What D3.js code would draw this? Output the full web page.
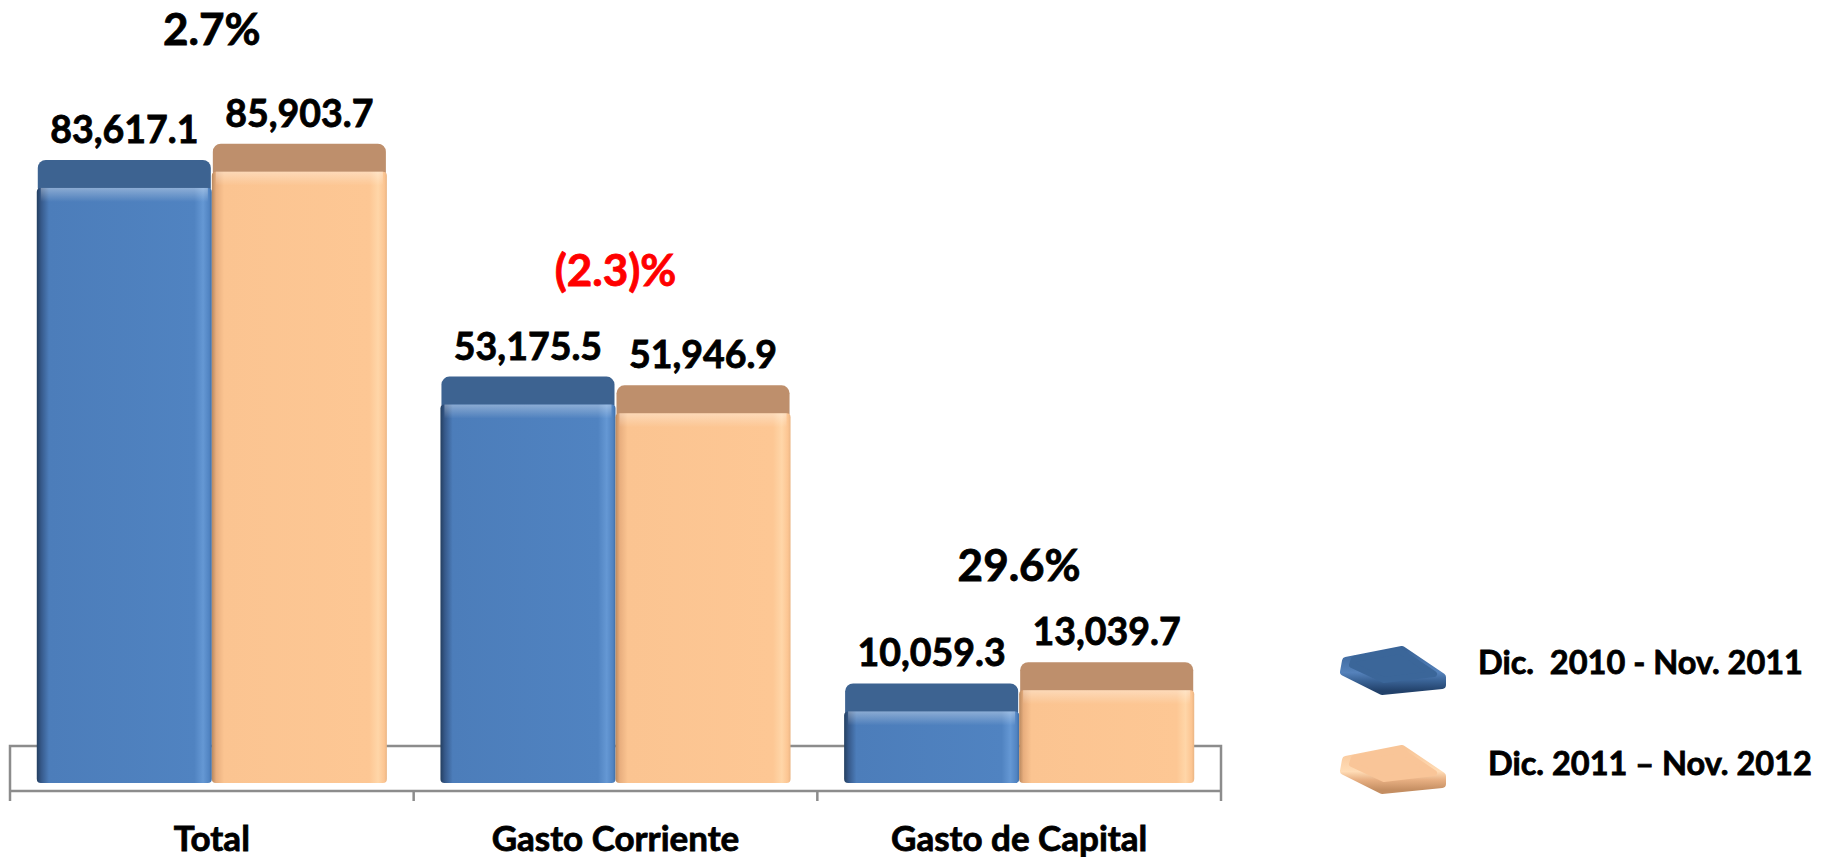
<!DOCTYPE html>
<html>
<head>
<meta charset="utf-8">
<script src="https://cdn.jsdelivr.net/npm/d3@7"></script>
<style>
  html, body { margin: 0; padding: 0; background: #fff; }
  svg { display: block; font-family: Lato, "Open Sans", sans-serif; font-weight: 700; }
  svg text { stroke-width: 0.8px; }
</style>
</head>
<body>
<div id="chart"></div>
<script>
// data
const categories = ["Total", "Gasto Corriente", "Gasto de Capital"];
const series = ["Dic.  2010 - Nov. 2011", "Dic. 2011 \u2013 Nov. 2012"];
const values2011 = [83617.1, 53175.5, 10059.3];
const values2012 = [85903.7, 51946.9, 13039.7];

const W = 1825, H = 857;
const depth = 28;       // height of the bar's top face
const front = {fill: ["url(#blueFront)", "url(#peachFront)"], top: ["#3d6391", "#be8f6c"]};

const rows = categories.map((c, i) => ({cat: c, vals: [values2011[i], values2012[i]]}));

const svg = d3.select("#chart").append("svg")
  .attr("width", W).attr("height", H)
  .attr("viewBox", `0 0 ${W} ${H}`);

const defs = svg.append("defs");
function hgrad(id, stops) {
  const g = defs.append("linearGradient").attr("id", id)
    .attr("x1", "0").attr("x2", "1").attr("y1", "0").attr("y2", "0");
  stops.forEach(s => g.append("stop").attr("offset", s[0]).attr("stop-color", s[1]));
}
hgrad("blueFront", [["0", "#243f60"], ["0.025", "#36598a"], ["0.07", "#4c7dba"], ["0.9", "#5083c1"], ["0.95", "#6598d4"], ["0.985", "#5184c2"], ["1", "#3f6ea6"]]);
hgrad("peachFront", [["0", "#b8885f"], ["0.025", "#e8ae7e"], ["0.07", "#fbc491"], ["0.9", "#fdc794"], ["0.95", "#ffd6a8"], ["0.985", "#fcc592"], ["1", "#eab584"]]);
const bev = defs.append("linearGradient").attr("id", "bevel")
  .attr("x1", "0").attr("x2", "0").attr("y1", "0").attr("y2", "1");
bev.append("stop").attr("offset", "0").attr("stop-color", "#fff").attr("stop-opacity", 0.35);
bev.append("stop").attr("offset", "1").attr("stop-color", "#fff").attr("stop-opacity", 0);

// cushion shading for the legend
function vgrad(id, stops) {
  const g = defs.append("linearGradient").attr("id", id)
    .attr("x1", "0").attr("x2", "0").attr("y1", "0").attr("y2", "1");
  stops.forEach(s => g.append("stop").attr("offset", s[0]).attr("stop-color", s[1]));
}
vgrad("blueSide", [["0", "#3a6498"], ["0.55", "#5582bb"], ["0.75", "#3a6396"], ["1", "#22416a"]]);
vgrad("peachSide", [["0", "#f8c597"], ["0.55", "#ffdcb6"], ["0.75", "#e8b083"], ["1", "#c48e62"]]);

// scales
const x0 = d3.scaleBand().domain(categories).range([10, 1221]).paddingInner(0).paddingOuter(0);
const x1 = d3.scaleBand().domain(series).range([0, x0.bandwidth()]).paddingInner(0).paddingOuter(0.153);
const y = d3.scaleLinear().domain([0, 90000]).range([755, 114.5]);

const y0 = y(0);

// floor (drawn behind the bars)
const floor = svg.append("g").attr("stroke", "#8c8c8c").attr("stroke-width", 2.5).attr("fill", "none");
floor.append("path")
  .attr("d", `M${x0.range()[0]},${y0 + 36}V${y0 - 9}H${x0.range()[1]}V${y0 + 36}`);

// x axis along the front edge of the floor
const xAxis = svg.append("g")
  .attr("transform", `translate(0,${y0 + 36})`)
  .call(d3.axisBottom(x0).tickSize(0).tickFormat(""));
xAxis.select(".domain").attr("stroke", "#8c8c8c").attr("stroke-width", 2.5)
  .attr("d", `M${x0.range()[0]},0H${x0.range()[1]}`);
svg.append("g").selectAll("line")
  .data(categories.map(c => x0(c)).concat([x0.range()[1]]))
  .join("line")
  .attr("x1", d => d).attr("x2", d => d)
  .attr("y1", y0 + 36).attr("y2", y0 + 46)
  .attr("stroke", "#8c8c8c").attr("stroke-width", 2.5);

// bars
const groups = svg.append("g").selectAll("g")
  .data(rows).join("g")
  .attr("transform", d => `translate(${x0(d.cat)},0)`);

const bars = groups.selectAll("g.bar")
  .data(d => d.vals.map((v, j) => ({v, j, s: series[j]})))
  .join("g").attr("class", "bar");

bars.append("rect")
  .attr("x", d => x1(d.s) + 1)
  .attr("y", d => y(d.v))
  .attr("width", x1.bandwidth() - 2)
  .attr("height", depth + 8)
  .attr("rx", 8)
  .attr("fill", d => front.top[d.j]);

bars.append("rect")
  .attr("x", d => x1(d.s))
  .attr("y", d => y(d.v) + depth)
  .attr("width", x1.bandwidth())
  .attr("height", d => y0 - y(d.v))
  .attr("rx", 4)
  .attr("fill", d => front.fill[d.j]);

bars.append("rect")
  .attr("x", d => x1(d.s) + 4)
  .attr("y", d => y(d.v) + depth)
  .attr("width", x1.bandwidth() - 8)
  .attr("height", 14)
  .attr("fill", "url(#bevel)");

// value labels
bars.append("text")
  .attr("x", d => x1(d.s) + x1.bandwidth() / 2)
  .attr("y", d => y(d.v) - 17)
  .attr("text-anchor", "middle")
  .attr("font-size", 37.5)
  .attr("fill", "#000").attr("stroke", "#000")
  .text(d => d3.format(",.1f")(d.v));

// growth labels (taller bars sit a little further from their label)
const pct = v => {
  const p = (v[1] / v[0] - 1) * 100;
  return p < 0 ? `(${d3.format(".1f")(-p)})%` : `${d3.format(".1f")(p)}%`;
};
groups.append("text")
  .attr("x", x0.bandwidth() / 2)
  .attr("y", d => { const t = y(d3.max(d.vals)); return t - (104 - 0.035 * t); })
  .attr("text-anchor", "middle")
  .attr("font-size", 44)
  .attr("fill", d => d.vals[1] < d.vals[0] ? "#ff0000" : "#000")
  .attr("stroke", d => d.vals[1] < d.vals[0] ? "#ff0000" : "#000")
  .text(d => pct(d.vals));

// category labels
groups.append("text")
  .attr("x", x0.bandwidth() / 2)
  .attr("y", 851)
  .attr("text-anchor", "middle")
  .attr("font-size", 35)
  .attr("fill", "#000").attr("stroke", "#000")
  .text(d => d.cat);

// legend
const legend = svg.append("g");
const cushions = [
  {top: "#3b6699", side: "url(#blueSide)", y: 645},
  {top: "#f9c598", side: "url(#peachSide)", y: 744}
];
const lg = legend.selectAll("g").data(series).join("g")
  .attr("transform", (d, i) => `translate(1338,${cushions[i].y})`);
// whole cushion body, rounded
lg.append("path")
  .attr("d", "M8,16 L64,5 L104,32 L104,40 L44,46 L6,27 Z")
  .attr("fill", (d, i) => cushions[i].side)
  .attr("stroke", (d, i) => cushions[i].side).attr("stroke-width", 8).attr("stroke-linejoin", "round");
// flat top face
lg.append("path")
  .attr("d", "M16,14 L62,6 L96,29 L46,35 L14,20 Z")
  .attr("fill", (d, i) => cushions[i].top)
  .attr("stroke", (d, i) => cushions[i].top).attr("stroke-width", 6).attr("stroke-linejoin", "round");

legend.selectAll("text").data(series).join("text")
  .attr("x", (d, i) => i === 0 ? 1478 : 1488)
  .attr("y", (d, i) => i === 0 ? 674 : 775)
  .attr("font-size", 32.5)
  .attr("fill", "#000").attr("stroke", "#000")
  .style("white-space", "pre")
  .text(d => d);
</script>
</body>
</html>
